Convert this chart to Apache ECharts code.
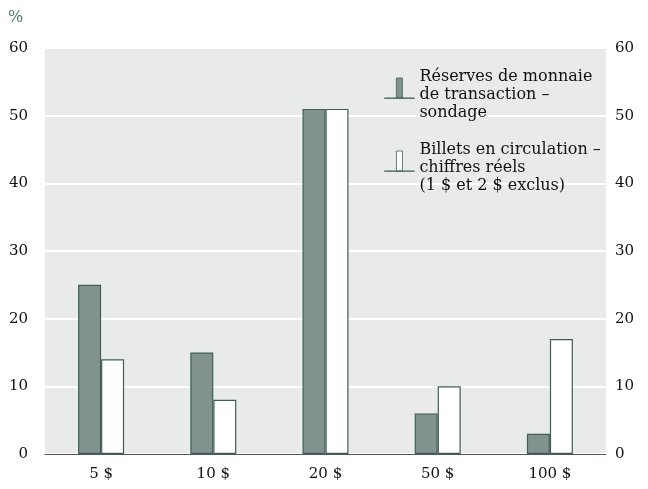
<!DOCTYPE html>
<html>
<head>
<meta charset="utf-8">
<script src="https://cdn.jsdelivr.net/npm/echarts@6/dist/echarts.min.js"></script>
<style>
  html, body { margin: 0; padding: 0; background: #fff; }
  #chart { width: 648px; height: 489px; }
</style>
</head>
<body>
<div id="chart"></div>
<script>
// Réserves de monnaie par coupure — sondage vs billets en circulation
const categories = ["5 $", "10 $", "20 $", "50 $", "100 $"];
const reserves = [25, 15, 51, 6, 3];
const billets = [14, 8, 51, 10, 17];
const seriesNames = [
  "Réserves de monnaie\nde transaction –\nsondage",
  "Billets en circulation –\nchiffres réels\n(1 $ et 2 $ exclus)",
];

const FONT = '"DejaVu Serif", "Liberation Serif", serif';
const INK = "#111";
const EDGE = "#3e5f58";
// petite barre posée sur une ligne de base ; le "M0,34" seul agrandit la boîte
// vers le bas pour que l'icône remonte à hauteur des deux premières lignes
const LEGEND_ICON = "path://M0,34 M12,0 h6 v20 h-6 z M0,20 h30 v0.3 h-30 z";

const yAxisCommon = {
  type: "value",
  min: 0,
  max: 60,
  interval: 10,
  axisLine: { show: false },
  axisTick: { show: false },
  splitLine: { show: true, lineStyle: { color: "#ffffff", width: 2 } },
  axisLabel: { fontFamily: FONT, fontSize: 15, color: INK, margin: 17 },
};

const chart = echarts.init(document.getElementById("chart"), null, { renderer: "canvas" });
chart.setOption({
  animation: false,
  textStyle: { fontFamily: FONT, color: INK },
  grid: {
    left: 45, right: 42, top: 48, bottom: 35,
    show: true, backgroundColor: "#e8ebea", borderWidth: 0,
  },
  graphic: [
    { type: "text", left: 8, top: 10, style: { text: "%", font: "16px " + FONT, fill: "#4f7a6f" } },
  ],
  legend: {
    orient: "vertical",
    left: 379,
    top: 63,
    itemWidth: 30,
    itemHeight: 34,
    itemGap: 19,
    icon: LEGEND_ICON,
    itemStyle: { borderWidth: 0.8 },
    textStyle: { fontFamily: FONT, fontSize: 16, color: INK, lineHeight: 18 },
    data: seriesNames,
  },
  xAxis: {
    type: "category",
    data: categories,
    axisLine: { show: true, lineStyle: { color: "#555", width: 1.2 } },
    axisTick: { show: false },
    axisLabel: { fontFamily: FONT, fontSize: 15, color: INK, margin: 13 },
  },
  yAxis: [
    { ...yAxisCommon, position: "left" },
    { ...yAxisCommon, position: "right", splitLine: { show: false },
      axisLabel: { ...yAxisCommon.axisLabel, margin: 9 } },
  ],
  series: [
    {
      name: seriesNames[0],
      type: "bar",
      data: reserves,
      barWidth: 23,
      barGap: "0%",
      itemStyle: { color: "#82938f", borderColor: EDGE, borderWidth: 1.2 },
    },
    {
      name: seriesNames[1],
      type: "bar",
      data: billets,
      barWidth: 23,
      itemStyle: { color: "#ffffff", borderColor: EDGE, borderWidth: 1.2 },
    },
  ],
});
</script>
</body>
</html>
